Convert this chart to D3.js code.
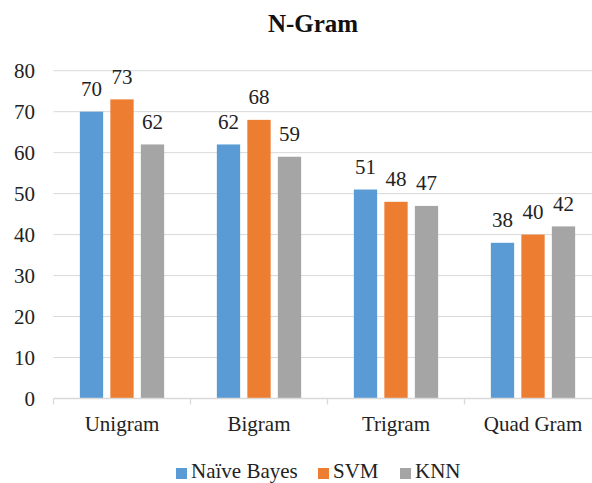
<!DOCTYPE html>
<html><head><meta charset="utf-8">
<script src="https://cdn.jsdelivr.net/npm/d3@7"></script>
<style>html,body{margin:0;padding:0;background:#fff;}svg{display:block;}svg text{font-family:'Liberation Serif','Times New Roman',serif;}</style>
</head><body>
<svg id="chart" width="592" height="483"></svg>
<script>
const categories = ["Unigram", "Bigram", "Trigram", "Quad Gram"];
const seriesNames = ["Naïve Bayes", "SVM", "KNN"];
const naiveBayes = [70, 62, 51, 38];
const svm = [73, 68, 48, 40];
const knn = [62, 59, 47, 42];
const yTicks = [0, 10, 20, 30, 40, 50, 60, 70, 80];
const colors = ["#5B9BD5", "#ED7D31", "#A5A5A5"];
const seriesValues = [naiveBayes, svm, knn];

const svg = d3.select("#chart");
const plotLeft = 53.5, plotRight = 601.5, plotTop = 70.7, plotBottom = 398.5;
const groupWidth = 84.3;

const x = d3.scaleBand().domain(categories).range([plotLeft, plotRight]).padding(0);
const y = d3.scaleLinear().domain([0, 80]).range([plotBottom, plotTop]);
const xs = d3.scaleBand().domain(seriesNames).range([0, groupWidth]).paddingInner(0.236).paddingOuter(0);

// gridlines
svg.append("g").selectAll("line").data(yTicks.filter(d => d > 0)).join("line")
  .attr("x1", plotLeft).attr("x2", plotRight)
  .attr("y1", d => y(d)).attr("y2", d => y(d))
  .attr("stroke", "#D9D9D9").attr("stroke-width", 1);

// y labels
svg.append("g").selectAll("text").data(yTicks).join("text")
  .attr("x", 35).attr("y", d => y(d)).attr("dy", "0.35em")
  .attr("text-anchor", "end").attr("font-size", 21)
  .attr("fill", "#222").text(d => d);

// bars
const groups = svg.append("g").selectAll("g").data(categories).join("g")
  .attr("transform", d => `translate(${x(d) + x.bandwidth() / 2 - groupWidth / 2},0)`);
groups.each(function(cat, ci) {
  const g = d3.select(this);
  seriesNames.forEach((s, si) => {
    const v = seriesValues[si][ci];
    g.append("rect")
      .attr("x", xs(s)).attr("width", xs.bandwidth())
      .attr("y", y(v)).attr("height", y(0) - y(v))
      .attr("fill", colors[si]);
    g.append("text")
      .attr("x", xs(s) + xs.bandwidth() / 2).attr("y", y(v) - 15.5)
      .attr("text-anchor", "middle").attr("font-size", 21)
      .attr("fill", "#222").text(v);
  });
});

// x axis
const xAxis = svg.append("g").attr("transform", `translate(0,${plotBottom})`);
xAxis.append("line").attr("x1", plotLeft).attr("x2", plotRight).attr("stroke", "#D9D9D9").attr("stroke-width", 1.3);
xAxis.selectAll("line.tick").data(d3.range(categories.length + 1)).join("line")
  .attr("class", "tick")
  .attr("x1", i => plotLeft + i * x.step()).attr("x2", i => plotLeft + i * x.step())
  .attr("y1", 0).attr("y2", 6).attr("stroke", "#D9D9D9").attr("stroke-width", 1.3);
xAxis.selectAll("text").data(categories).join("text")
  .attr("x", d => x(d) + x.bandwidth() / 2).attr("y", 32)
  .attr("text-anchor", "middle").attr("font-size", 21)
  .attr("fill", "#222").text(d => d);

// title
svg.append("text").attr("x", 313).attr("y", 32)
  .attr("text-anchor", "middle").attr("font-size", 25)
  .attr("font-weight", "bold").attr("fill", "#111").text("N-Gram");

// legend
const legendX = [176, 318, 400];
const leg = svg.append("g").selectAll("g").data(seriesNames).join("g")
  .attr("transform", (d, i) => `translate(${legendX[i]},468)`);
leg.append("rect").attr("width", 11).attr("height", 11).attr("fill", (d, i) => colors[i]);
leg.append("text").attr("x", 15).attr("y", 10).attr("font-size", 21)
  .attr("fill", "#222").text(d => d);
</script>
</body></html>
